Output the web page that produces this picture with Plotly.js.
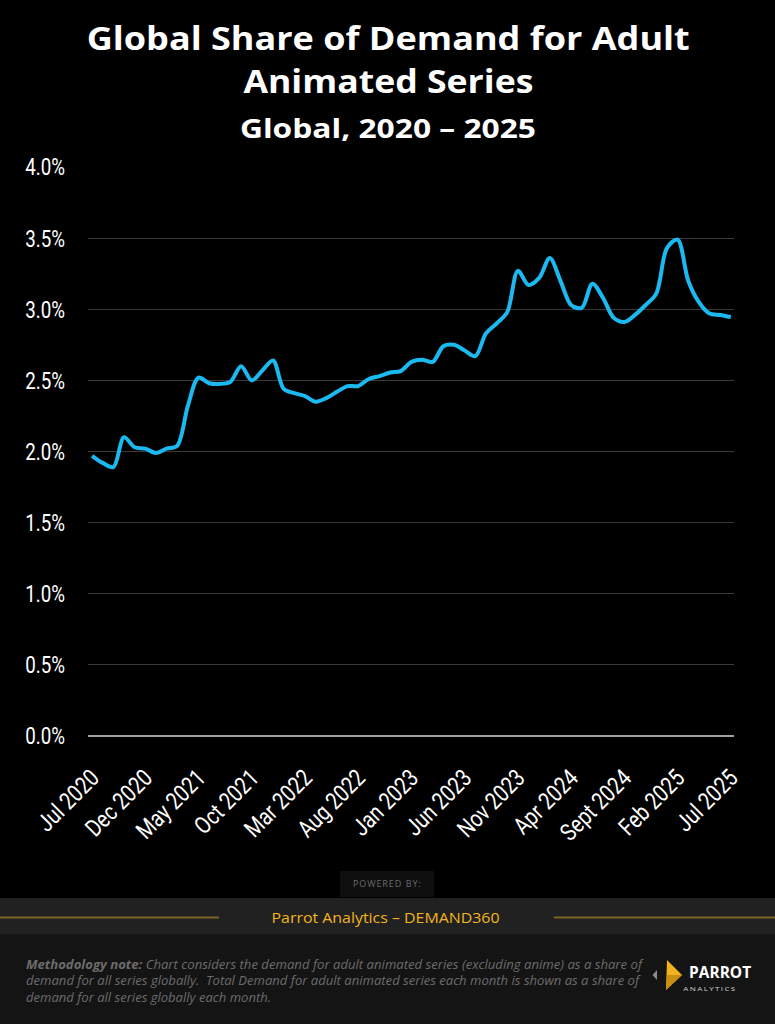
<!DOCTYPE html>
<html>
<head>
<meta charset="utf-8">
<script src="https://cdn.plot.ly/plotly-3.0.1.min.js"></script>
<style>
html,body{margin:0;padding:0;background:#000;}
#chart{width:775px;height:1024px;}
</style>
</head>
<body>
<div id="chart"></div>
<script>
// Monthly index: 0 = Jul 2020 ... 60 = Jul 2025
const monthIndex = Array.from({length: 61}, (_, i) => i);
const shareValues = [
  1.97, 1.92, 1.89, 2.10, 2.03, 2.02, 1.99, 2.02, 2.04, 2.32,
  2.52, 2.48, 2.475, 2.49, 2.60, 2.50, 2.57, 2.64, 2.44, 2.41,
  2.39, 2.35, 2.375, 2.42, 2.46, 2.46, 2.51, 2.53, 2.555, 2.565,
  2.63, 2.645, 2.63, 2.74, 2.75, 2.71, 2.67, 2.83, 2.90, 2.98,
  3.27, 3.17, 3.22, 3.36, 3.20, 3.03, 3.01, 3.18, 3.08, 2.94,
  2.91, 2.96, 3.03, 3.11, 3.43, 3.49, 3.20, 3.05, 2.97, 2.96,
  2.945
];
const xTickVals = [0, 5, 10, 15, 20, 25, 30, 35, 40, 45, 50, 55, 60];
const xTickText = ["Jul 2020", "Dec 2020", "May 2021", "Oct 2021", "Mar 2022", "Aug 2022",
  "Jan 2023", "Jun 2023", "Nov 2023", "Apr 2024", "Sept 2024", "Feb 2025", "Jul 2025"];
const yTickVals = [0, 0.5, 1, 1.5, 2, 2.5, 3, 3.5, 4];
const yTickText = ["0.0%", "0.5%", "1.0%", "1.5%", "2.0%", "2.5%", "3.0%", "3.5%", "4.0%"];

// pixel -> paper helpers for decorations
const L = 88, R = 41, T = 167, B = 288, W = 775, H = 1024;
const pw = W - L - R, ph = H - T - B;
const px = v => (v - L) / pw;
const py = v => (H - B - v) / ph;

const tickFont = "Roboto, sans-serif";
const geo = "'Open Sans', Lato, sans-serif";

const trace = {
  x: monthIndex,
  y: shareValues,
  type: 'scatter',
  mode: 'lines',
  line: {color: '#1ab9ef', width: 4, shape: 'spline', smoothing: 0.9},
  hoverinfo: 'skip',
  cliponaxis: false
};

function box(x0, y0, x1, y1, color) {
  return {type: 'rect', xref: 'paper', yref: 'paper', x0: px(x0), x1: px(x1), y0: py(y0), y1: py(y1),
    fillcolor: color, line: {width: 0}, layer: 'below'};
}
function hline(x0, x1, y, color, w) {
  return {type: 'line', xref: 'paper', yref: 'paper', x0: px(x0), x1: px(x1), y0: py(y), y1: py(y),
    line: {color: color, width: w}};
}
function poly(pts, color) {
  let d = pts.map((p, i) => (i ? 'L' : 'M') + px(p[0]) + ',' + py(p[1])).join(' ') + ' Z';
  return {type: 'path', xref: 'paper', yref: 'paper', path: d, fillcolor: color, line: {width: 0}};
}
const fitWidths = [];
function text(t, x, y, size, color, opts, fit) {
  fitWidths.push(fit || 0);
  return Object.assign({xref: 'paper', yref: 'paper', x: px(x), y: py(y), text: t, showarrow: false,
    xanchor: 'center', yanchor: 'middle', font: {family: geo, size: size, color: color}}, opts || {});
}

const noteStyle = {xanchor: 'left', align: 'left'};
const annotations = [
  text('<b>Global Share of Demand for Adult</b>', 388, 38, 33, '#ffffff', null, 603),
  text('<b>Animated Series</b>', 388, 80, 33, '#ffffff', null, 290),
  text('<b>Global, 2020 – 2025</b>', 388, 127, 27, '#ffffff', null, 296),
  text('P\u200AO\u200AW\u200AE\u200AR\u200AE\u200AD\u2002B\u200AY\u200A:', 387, 884, 9, '#6a6a6a'),
  text('Parrot Analytics – DEMAND360', 385, 917, 15, '#f2b51c', null, 228),
  text('<b><i>Methodology note:</i></b><i> Chart considers the demand for adult animated series (excluding anime) as a share of</i>',
    24, 964, 12.5, '#6c6c6c', noteStyle, 616),
  text('<i>demand for all series globally.  Total Demand for adult animated series each month is shown as a share of</i>',
    24, 980.5, 12.5, '#6c6c6c', noteStyle, 613),
  text('<i>demand for all series globally each month.</i>',
    24, 997, 12.5, '#6c6c6c', noteStyle, 245),
  text('<b>PARROT</b>', 687, 971.5, 15.5, '#ffffff', {xanchor: 'left'}, 62),
  text('A\u2009N\u2009A\u2009L\u2009Y\u2009T\u2009I\u2009C\u2009S', 688, 988.5, 6, '#d0d0d0', {xanchor: 'left'}, 52)
];

const layout = {
  width: W, height: H,
  paper_bgcolor: '#000', plot_bgcolor: '#000',
  margin: {l: L, r: R, t: T, b: B},
  showlegend: false,
  xaxis: {
    range: [-0.38, 60.3],
    tickmode: 'array', tickvals: xTickVals, ticktext: xTickText,
    tickangle: -45,
    tickfont: {family: tickFont, size: 24, color: '#ffffff'},
    showgrid: false, zeroline: false, showline: false, ticks: '',
    ticklabelstandoff: 22,
    fixedrange: true
  },
  yaxis: {
    range: [0, 4],
    tickmode: 'array', tickvals: yTickVals, ticktext: yTickText,
    tickfont: {family: tickFont, size: 24, color: '#ffffff'},
    showgrid: true, gridcolor: '#3a3a3a', gridwidth: 1,
    zeroline: true, zerolinecolor: '#a0a0a0', zerolinewidth: 2,
    showline: false, ticks: '',
    ticklabelstandoff: 22,
    fixedrange: true
  },
  shapes: [
    box(340, 871, 434, 897, '#0f0f0f'),
    box(0, 898, 775, 934, '#212121'),
    box(0, 934, 775, 1024, '#141414'),
    hline(0, 219, 917.5, '#7d6424', 2),
    hline(554, 775, 917.5, '#7d6424', 2),
    poly([[657, 970], [652.5, 975], [657, 980]], '#8a8a8a'),
    poly([[667, 960], [682, 975], [666, 990]], '#f2b21e'),
    poly([[667, 975], [682, 975], [666, 990]], '#c98f12')
  ],
  annotations: annotations
};

function condense(sel, factor) {
  document.querySelectorAll(sel).forEach(t => {
    const len = t.getComputedTextLength();
    t.setAttribute('textLength', (len * factor).toFixed(2));
    t.setAttribute('lengthAdjust', 'spacingAndGlyphs');
  });
}

Plotly.newPlot('chart', [trace], layout, {displayModeBar: false, staticPlot: true}).then(() => {
  condense('.xtick text', 0.82);
  condense('.ytick text', 0.78);
  fitWidths.forEach((w, i) => {
    if (!w) return;
    const t = document.querySelector('.annotation[data-index="' + i + '"] text.annotation-text');
    if (t) {
      t.setAttribute('textLength', w);
      t.setAttribute('lengthAdjust', 'spacingAndGlyphs');
    }
  });
});
</script>
</body>
</html>
